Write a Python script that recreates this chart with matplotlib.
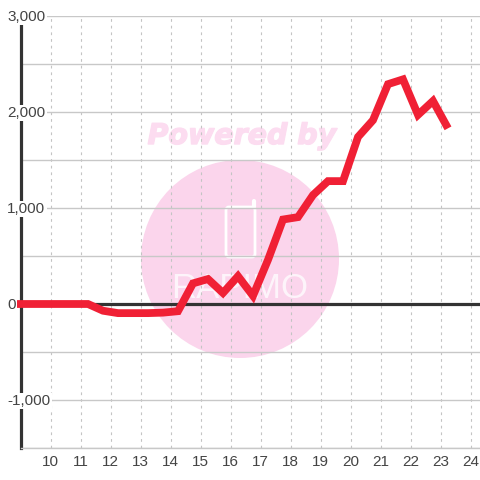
import matplotlib

matplotlib.use("Agg")
import matplotlib.pyplot as plt
import matplotlib.patheffects as pe
from matplotlib.patches import Circle, FancyBboxPatch

hours = [8.75, 9.25, 9.75, 10.25, 10.75, 11.25, 11.75, 12.25, 12.75, 13.25, 13.75,
         14.25, 14.75, 15.25, 15.75, 16.25, 16.75, 17.25, 17.75, 18.25, 18.75,
         19.25, 19.75, 20.25, 20.75, 21.25, 21.75, 22.25, 22.75, 23.25]
values = [0, 0, 0, 0, 0, 0, -70, -95, -95, -95, -90,
          -75, 215, 260, 115, 290, 85, 460, 880, 905, 1135,
          1280, 1280, 1740, 1915, 2290, 2340, 1970, 2115, 1830]
x_ticks = list(range(10, 25))
y_major = [-1000, 0, 1000, 2000, 3000]
y_grid = [-1500, -1000, -500, 0, 500, 1000, 1500, 2000, 2500, 3000]

plt.rcParams["font.family"] = ["Liberation Sans", "DejaVu Sans"]

fig = plt.figure(figsize=(4.8, 4.8), dpi=100, facecolor="white")

# watermark sits underneath, in pixel coordinates
bg = fig.add_axes([0, 0, 1, 1], zorder=0)
bg.set_xlim(0, 480)
bg.set_ylim(480, 0)
bg.axis("off")
bg.add_patch(Circle((240, 259), 99, color="#fbd5ec", lw=0))
bg.text(242, 136, "Powered by", color="#fcdcf0", fontsize=20.5, fontweight="bold",
        fontstyle="italic", family="DejaVu Sans", ha="center", va="center",
        path_effects=[pe.withStroke(linewidth=1, foreground="#fcdcf0")])
bg.add_patch(FancyBboxPatch((226, 207), 29, 50, boxstyle="round,pad=0,rounding_size=3",
                            fc="none", ec="white", lw=2))
bg.plot([253.5, 253.5], [207, 201], color="white", lw=3, solid_capstyle="round")
bg.text(240, 289, "RAPIMO", color="white", fontsize=25, alpha=0.75,
        ha="center", va="center")

# axes box: 20.5px to 480px wide, 16px to 448px tall
ax = fig.add_axes([20.5 / 480, 32 / 480, 459.5 / 480, 432 / 480], zorder=1)
ax.patch.set_alpha(0)
ax.set_xlim(9, 9 + 459.5 / 30)
ax.set_ylim(-1500, 3000)

for s in ["top", "right"]:
    ax.spines[s].set_visible(False)
ax.spines["left"].set_linewidth(2.3)
ax.spines["left"].set_color("#333333")
ax.spines["bottom"].set_linewidth(1)
ax.spines["bottom"].set_color("#c8c8c8")

ax.set_xticks(x_ticks)
ax.set_yticks(y_grid)
ax.set_yticklabels([])
ax.tick_params(axis="both", length=0)
ax.tick_params(axis="x", labelsize=11, labelcolor="#444444", pad=5)
ax.grid(axis="y", color="#c8c8c8", lw=1)
ax.grid(axis="x", color="#c4c4c4", lw=0.8, ls=(0, (2.5, 3.5)))
ax.set_axisbelow(True)

ax.axhline(0, color="#333333", lw=2.3, zorder=2)
ax.plot(hours, values, color="#f02035", lw=5.6, solid_joinstyle="miter",
        solid_capstyle="butt", zorder=3, clip_on=False)

# y labels are left aligned and blank out what is behind them
for v in y_major:
    fig.text(7 / 480, (480 - (305 - v * 0.096)) / 480, f"{v:,}", fontsize=11,
             color="#444444", ha="left", va="center", zorder=5,
             bbox=dict(fc="white", ec="none", pad=1))

fig.savefig("out.png", dpi=100)
